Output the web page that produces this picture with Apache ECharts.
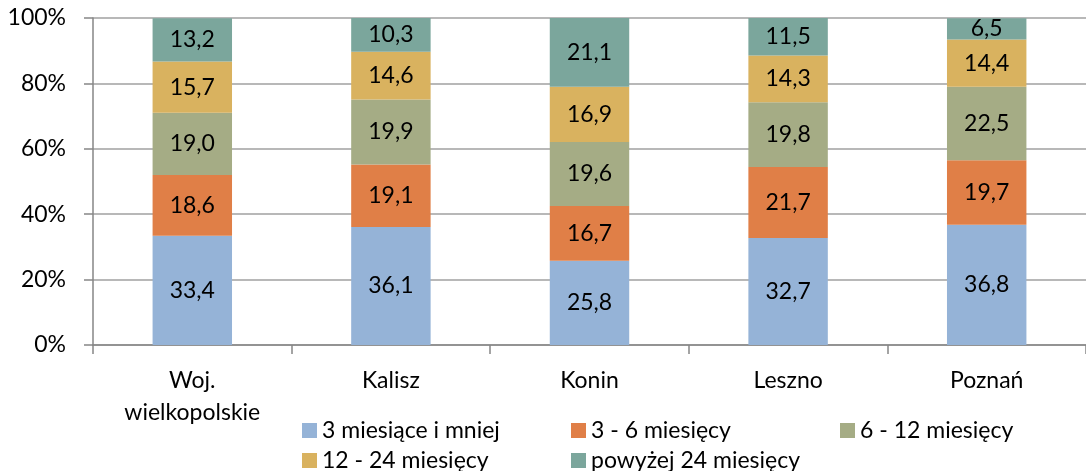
<!DOCTYPE html>
<html>
<head>
<meta charset="utf-8">
<script src="https://cdn.jsdelivr.net/npm/echarts@6/dist/echarts.min.js"></script>
<style>
  html, body { margin: 0; padding: 0; background: #fff; }
  #main { width: 1086px; height: 471px; }
</style>
</head>
<body>
<div id="main"></div>
<script>
// kategorie (powiaty / województwo)
const categories = ['Woj.\nwielkopolskie', 'Kalisz', 'Konin', 'Leszno', 'Poznań'];

// udział bezrobotnych wg czasu pozostawania bez pracy (%)
const upTo3 = [33.4, 36.1, 25.8, 32.7, 36.8];
const from3to6 = [18.6, 19.1, 16.7, 21.7, 19.7];
const from6to12 = [19.0, 19.9, 19.6, 19.8, 22.5];
const from12to24 = [15.7, 14.6, 16.9, 14.3, 14.4];
const over24 = [13.2, 10.3, 21.1, 11.5, 6.5];

const seriesNames = ['3 miesiące i mniej', '3 - 6 miesięcy', '6 - 12 miesięcy', '12 - 24 miesięcy', 'powyżej 24 miesięcy'];
const colors = ['#95B3D7', '#E07F47', '#A5AC85', '#D9B25F', '#7BA69C'];
const yTicks = [0, 20, 40, 60, 80, 100];

const font = 'Lato, "Open Sans", sans-serif';
const fs = 23;
const chart = echarts.init(document.getElementById('main'));

function makeSeries(name, data, color) {
  return {
    name: name,
    type: 'bar',
    stack: 'total',
    barWidth: '40%',
    data: data,
    itemStyle: { color: color },
    label: {
      show: true,
      position: 'inside',
      color: '#000',
      fontFamily: font,
      fontSize: fs,
      formatter: p => p.value.toFixed(1).replace('.', ',')
    }
  };
}

// legenda w trzech kolumnach
function legendCol(left, names) {
  return {
    orient: 'vertical',
    left: left,
    top: 414,
    height: 80,
    itemGap: 7,
    itemWidth: 15,
    itemHeight: 15,
    icon: 'rect',
    textStyle: { fontFamily: font, fontSize: fs, color: '#000', padding: [0, 0, 0, 0] },
    data: names
  };
}

const option = {
  animation: false,
  textStyle: { fontFamily: font },
  grid: { left: 93, right: 0, top: 18, bottom: 126 },
  legend: [
    legendCol(297, [seriesNames[0], seriesNames[3]]),
    legendCol(566, [seriesNames[1], seriesNames[4]]),
    legendCol(835, [seriesNames[2]])
  ],
  xAxis: {
    type: 'category',
    data: categories,
    axisLine: { lineStyle: { color: '#868686', width: 1.5 } },
    axisTick: { show: true, length: 9, lineStyle: { color: '#868686', width: 1.5 } },
    axisLabel: { color: '#000', fontFamily: font, fontSize: fs, margin: 20, lineHeight: 32 }
  },
  yAxis: {
    type: 'value',
    min: 0,
    max: 100,
    interval: 20,
    axisLine: { show: true, lineStyle: { color: '#868686', width: 1.5 } },
    axisTick: { show: true, length: 9, lineStyle: { color: '#868686', width: 1.5 } },
    splitLine: { lineStyle: { color: '#A0A0A0', width: 1.5 } },
    axisLabel: {
      color: '#000',
      fontFamily: font,
      fontSize: fs,
      margin: 27,
      formatter: v => yTicks.includes(v) ? v + '%' : ''
    }
  },
  series: [
    makeSeries(seriesNames[0], upTo3, colors[0]),
    makeSeries(seriesNames[1], from3to6, colors[1]),
    makeSeries(seriesNames[2], from6to12, colors[2]),
    makeSeries(seriesNames[3], from12to24, colors[3]),
    makeSeries(seriesNames[4], over24, colors[4])
  ]
};

chart.setOption(option);
</script>
</body>
</html>
